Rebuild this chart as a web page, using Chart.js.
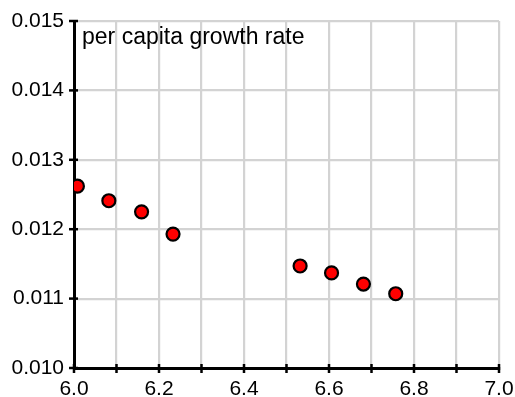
<!DOCTYPE html>
<html><head><meta charset="utf-8">
<script src="https://cdn.jsdelivr.net/npm/chart.js@4"></script>
<style>html,body{margin:0;padding:0;background:#fff}#wrap{width:515px;height:397px}</style>
</head><body><div id="wrap"><canvas id="c" width="515" height="397"></canvas></div>
<script>
const xValues = [6.008, 6.082, 6.159, 6.233, 6.532, 6.606, 6.681, 6.757];
const yValues = [0.01262, 0.01241, 0.01225, 0.01193, 0.01147, 0.01137, 0.01121, 0.01107];
const yLabel = 'per capita growth rate';
const xMin = 6.0, xMax = 7.0, xStep = 0.1;
const yMin = 0.010, yMax = 0.015, yStep = 0.001;

const FONT = 'Liberation Sans';
const crossTicks = {
  id: 'crossTicks',
  afterDraw(chart) {
    const ctx = chart.ctx, a = chart.chartArea;
    const xs = chart.scales.x, ys = chart.scales.y;
    ctx.save();
    ctx.strokeStyle = '#000'; ctx.lineWidth = 2.5;
    xs.ticks.forEach(t => {
      const px = xs.getPixelForValue(t.value);
      ctx.beginPath(); ctx.moveTo(px, a.bottom - 4); ctx.lineTo(px, a.bottom + 5); ctx.stroke();
    });
    ys.ticks.forEach(t => {
      const py = ys.getPixelForValue(t.value);
      ctx.beginPath(); ctx.moveTo(a.left - 5, py); ctx.lineTo(a.left + 4, py); ctx.stroke();
    });
    ctx.fillStyle = '#000';
    ctx.font = '23px "' + FONT + '"';
    ctx.textAlign = 'left'; ctx.textBaseline = 'alphabetic';
    ctx.fillText(yLabel, a.left + 8, a.top + 23);
    ctx.restore();
  }
};

new Chart(document.getElementById('c'), {
  type: 'scatter',
  data: { datasets: [{
    data: xValues.map((x, i) => ({x, y: yValues[i]})),
    backgroundColor: '#ff0000', borderColor: '#000', borderWidth: 2.2,
    pointRadius: 6.5, pointHoverRadius: 6.5
  }]},
  options: {
    responsive: false, animation: false,
    layout: { autoPadding: false, padding: { top: 21, right: 16, left: 0, bottom: 0 } },
    plugins: { legend: { display: false }, tooltip: { enabled: false } },
    scales: {
      x: {
        type: 'linear', min: xMin, max: xMax,
        afterFit(s) { s.height = 29; s.paddingLeft = 0; s.paddingRight = 0; },
        grid: { color: '#d3d3d3', lineWidth: 2.2, drawTicks: false },
        border: { color: '#000', width: 3 },
        ticks: { stepSize: xStep, padding: 9, color: '#000', font: { family: FONT, size: 21 },
          maxRotation: 0, autoSkip: false,
          callback: (v, i) => (i % 2 === 0 ? Number(v).toFixed(1) : '') }
      },
      y: {
        type: 'linear', min: yMin, max: yMax,
        afterFit(s) { s.width = 74; s.paddingTop = 0; s.paddingBottom = 0; },
        grid: { color: '#d3d3d3', lineWidth: 2.2, drawTicks: false },
        border: { color: '#000', width: 3 },
        ticks: { stepSize: yStep, padding: 10, color: '#000', font: { family: FONT, size: 21 },
          callback: v => Number(v).toFixed(3) }
      }
    }
  },
  plugins: [crossTicks]
});
</script></body></html>
